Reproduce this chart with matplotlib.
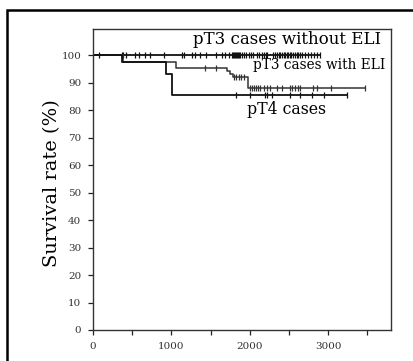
import numpy as np
import matplotlib
matplotlib.use("Agg")
import matplotlib.pyplot as plt
from matplotlib.patches import Rectangle

plt.rcParams["font.family"] = ["DejaVu Serif"]

# Kaplan-Meier steps (days, survival %)
t_noeli = [0, 2890]
s_noeli = [100, 100]
t_eli = [0, 388, 1060, 1707, 1750, 1784, 1978, 3474]
s_eli = [100, 97.6, 95.4, 94.3, 93.1, 91.9, 88.0, 88.0]
t_pt4 = [0, 366, 932, 1005, 3240]
s_pt4 = [100, 97.6, 93.0, 85.5, 85.5]

# censored cases
c_noeli = [81, 366, 388, 421, 536, 592, 664, 728, 907, 1132, 1162, 1260, 1303,
           1367, 1443, 1571, 1643, 1686, 1729, 1775, 1790, 1800, 1812, 1825,
           1840, 1852, 1865, 1880, 1900, 1925, 1950, 1990, 2020, 2045, 2090,
           2120, 2150, 2175, 2200, 2215, 2300, 2320, 2345, 2370, 2390, 2410,
           2430, 2450, 2470, 2490, 2510, 2530, 2550, 2575, 2600, 2620, 2640,
           2660, 2700, 2740, 2780, 2820, 2860, 2890]
c_eli = [1430, 1571, 1800, 1830, 1860, 1890, 1920, 2005, 2030, 2055, 2080,
         2105, 2130, 2180, 2215, 2260, 2345, 2410, 2515, 2540, 2580, 2620,
         2645, 2810, 2860, 3030, 3474]
c_pt4 = [1822, 2005, 2197, 2218, 2282, 2515, 2643, 2793, 2950, 3240]

curves = [
    (t_noeli, s_noeli, c_noeli, "#111111", 1.3),
    (t_eli, s_eli, c_eli, "#333333", 1.1),
    (t_pt4, s_pt4, c_pt4, "#111111", 1.3),
]


def level_at(t, s, x):
    idx = np.searchsorted(t, x, side="right") - 1
    return np.asarray(s)[idx]


fig = plt.figure(figsize=(4.14, 3.61), dpi=100)
ax = fig.add_axes([0.2246, 0.0859, 0.7198, 0.8338])

for t, s, c, col, lw in curves:
    ax.step(t, s, where="post", color=col, lw=lw)
    ax.plot(c, level_at(t, s, c), ls="none", marker="|", ms=5,
            mew=0.9, color=col)

ax.set_xlim(0, 3800)
ax.set_ylim(0, 109.5)
ax.set_yticks(np.arange(0, 101, 10))
ax.set_xticks(np.arange(0, 3501, 500))
ax.set_xticklabels([str(v) if v % 1000 == 0 else "" for v in range(0, 3501, 500)])
ax.tick_params(direction="out", length=3.5, width=0.9, labelsize=7.5,
               labelcolor="#333333", color="#222222", pad=5)
for sp in ax.spines.values():
    sp.set_color("#333333")
    sp.set_linewidth(1.0)

ax.set_ylabel("Survival rate (%)", fontsize=14)
ax.yaxis.set_label_coords(-0.108, 0.487)

ax.text(3670, 104.0, "pT3 cases without ELI", ha="right", va="baseline", fontsize=12)
ax.text(3725, 94.8, "pT3 cases with ELI", ha="right", va="baseline", fontsize=9.8)
ax.text(2465, 78.4, "pT4 cases", ha="center", va="baseline", fontsize=11.3)

# outer frame (clipped at right and bottom)
fig.add_artist(Rectangle((7 / 414, -0.1), 1.2, 1.0723, transform=fig.transFigure,
                         fill=False, lw=1.8, color="black"))

fig.savefig("out.png", dpi=100)
